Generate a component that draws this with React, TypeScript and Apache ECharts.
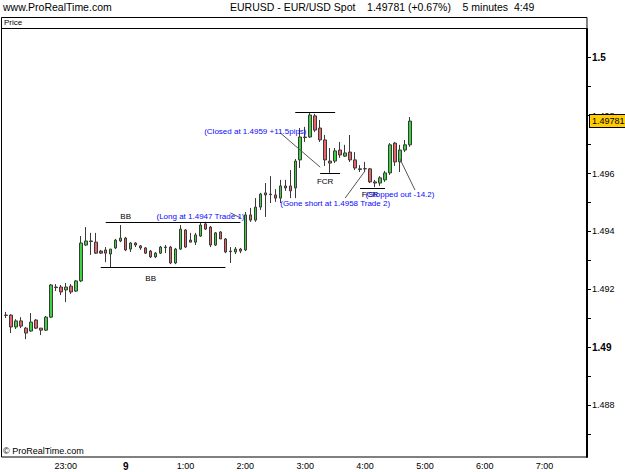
import React, { useEffect, useRef } from 'react';
import * as echarts from 'echarts';

const FONT = '"Liberation Sans", Arial, sans-serif';

// 5-minute bar times, 22:00 .. 7:40
const categories: string[] = [];
for (let m = 22 * 60; m <= 22 * 60 + 116 * 5; m += 5) {
  const h = Math.floor(m / 60) % 24;
  const mm = m % 60;
  categories.push(`${h}:${mm < 10 ? '0' : ''}${mm}`);
}

// [open, close, low, high] per 5-minute bar from 22:00
const ohlc: number[][] = [
  [1.49111, 1.4911, 1.49101, 1.49122],
  [1.49111, 1.4907, 1.49049, 1.49114],
  [1.4907, 1.49091, 1.49063, 1.49097],
  [1.49091, 1.49073, 1.49066, 1.49104],
  [1.49066, 1.49049, 1.49028, 1.4907],
  [1.49056, 1.49087, 1.49053, 1.49118],
  [1.49094, 1.49066, 1.49063, 1.49097],
  [1.49066, 1.49059, 1.49042, 1.49066],
  [1.49059, 1.49104, 1.49056, 1.49108],
  [1.49104, 1.49215, 1.49101, 1.49218],
  [1.49208, 1.49206, 1.49194, 1.49218],
  [1.49208, 1.49191, 1.4918, 1.49215],
  [1.49198, 1.49208, 1.49156, 1.49222],
  [1.49211, 1.49191, 1.49184, 1.49218],
  [1.49194, 1.49229, 1.49191, 1.49232],
  [1.49229, 1.4936, 1.49225, 1.49384],
  [1.49353, 1.49367, 1.4935, 1.49415],
  [1.49367, 1.49365, 1.49319, 1.49395],
  [1.49363, 1.49325, 1.49322, 1.49395],
  [1.49332, 1.49325, 1.49322, 1.49336],
  [1.49336, 1.49325, 1.49294, 1.49346],
  [1.49322, 1.49339, 1.49277, 1.49339],
  [1.49343, 1.4937, 1.49339, 1.49374],
  [1.49367, 1.49377, 1.49363, 1.49422],
  [1.49377, 1.49336, 1.49332, 1.49381],
  [1.49339, 1.4936, 1.49329, 1.49363],
  [1.4936, 1.49353, 1.49346, 1.49363],
  [1.4935, 1.49343, 1.49336, 1.49353],
  [1.49343, 1.49325, 1.49322, 1.49346],
  [1.49332, 1.49312, 1.49308, 1.49336],
  [1.49312, 1.49325, 1.49308, 1.49329],
  [1.49325, 1.49346, 1.49322, 1.4935],
  [1.49346, 1.49344, 1.49325, 1.49353],
  [1.49346, 1.49291, 1.49287, 1.4935],
  [1.49291, 1.49339, 1.49287, 1.49343],
  [1.49339, 1.49408, 1.49336, 1.49422],
  [1.49405, 1.49346, 1.49343, 1.49408],
  [1.4937, 1.49363, 1.49363, 1.49395],
  [1.49363, 1.49388, 1.49353, 1.49395],
  [1.49384, 1.49422, 1.49381, 1.49429],
  [1.49426, 1.49408, 1.49405, 1.49433],
  [1.49415, 1.49353, 1.49346, 1.49419],
  [1.49353, 1.49395, 1.4935, 1.49398],
  [1.49398, 1.49374, 1.49374, 1.49401],
  [1.49374, 1.49329, 1.49325, 1.49377],
  [1.49332, 1.4933, 1.49291, 1.49346],
  [1.49329, 1.49339, 1.49322, 1.49346],
  [1.49339, 1.49332, 1.49325, 1.49343],
  [1.49336, 1.49457, 1.49332, 1.49467],
  [1.49457, 1.49439, 1.49433, 1.49481],
  [1.49439, 1.49484, 1.49433, 1.49515],
  [1.49484, 1.49529, 1.49474, 1.49533],
  [1.49533, 1.49526, 1.4945, 1.49567],
  [1.49529, 1.49527, 1.49498, 1.49591],
  [1.49526, 1.49515, 1.49502, 1.49546],
  [1.49515, 1.49557, 1.49498, 1.49578],
  [1.49557, 1.4955, 1.4954, 1.49578],
  [1.49557, 1.4954, 1.49515, 1.49612],
  [1.4955, 1.49643, 1.49515, 1.4965],
  [1.49647, 1.49726, 1.49619, 1.49757],
  [1.49726, 1.49724, 1.49709, 1.49761],
  [1.49726, 1.49802, 1.49723, 1.49812],
  [1.49799, 1.4975, 1.49743, 1.49806],
  [1.49757, 1.49716, 1.49709, 1.49785],
  [1.49716, 1.49647, 1.49626, 1.49733],
  [1.49643, 1.49636, 1.49602, 1.49688],
  [1.49643, 1.49678, 1.49636, 1.49688],
  [1.49681, 1.49664, 1.49654, 1.49709],
  [1.4966, 1.49671, 1.49657, 1.49699],
  [1.49674, 1.49647, 1.4964, 1.49733],
  [1.49647, 1.49619, 1.49612, 1.49674],
  [1.49616, 1.49614, 1.49605, 1.49629],
  [1.49616, 1.49617, 1.49605, 1.4964],
  [1.49616, 1.49571, 1.49567, 1.49619],
  [1.49571, 1.49567, 1.49553, 1.49578],
  [1.49567, 1.49585, 1.49557, 1.49591],
  [1.49578, 1.49602, 1.49571, 1.49609],
  [1.49602, 1.49699, 1.49595, 1.49705],
  [1.49705, 1.4964, 1.49626, 1.49709],
  [1.4964, 1.49681, 1.49605, 1.49699],
  [1.49681, 1.49699, 1.49674, 1.49716],
  [1.49699, 1.49781, 1.49692, 1.49795],
];

const lastPrice = 1.49781;
const yLabelValues = [1.488, 1.49, 1.492, 1.494, 1.496, 1.498, 1.5];
const yTickValues = [1.487, 1.488, 1.489, 1.49, 1.491, 1.492, 1.493, 1.494, 1.495, 1.496, 1.497, 1.498, 1.499, 1.5];
const yMin = 1.48621;
const yMax = 1.50099;

// horizontal drawn lines (black)
const levelLines = [
  { from: '23:40', to: '1:55', price: 1.49433 },
  { from: '23:35', to: '1:40', price: 1.49277 },
  { from: '2:50', to: '3:30', price: 1.49812 },
  { from: '3:15', to: '3:35', price: 1.49602 },
  { from: '3:55', to: '4:20', price: 1.4955 },
];

// slanted pointer lines (grey)
const pointerLines = [
  { from: ['2:35', 1.4974], to: ['3:15', 1.49622] },
  { from: ['3:40', 1.49515], to: ['4:00', 1.49609] },
  { from: ['4:35', 1.4965], to: ['4:50', 1.49543] },
  { from: ['1:45', 1.49464], to: ['1:55', 1.49447] },
];

// annotation texts
const notes = [
  { at: '0:00', price: 1.4945, text: 'BB', blue: false },
  { at: '0:25', price: 1.49236, text: 'BB', blue: false },
  { at: '1:15', price: 1.49453, text: '(Long at 1.4947 Trade 1)', blue: true },
  { at: '2:10', price: 1.49746, text: '(Closed at 1.4959 +11.5pips)', blue: true },
  { at: '3:20', price: 1.49574, text: 'FCR', blue: false },
  { at: '3:30', price: 1.49495, text: '(Gone short at 1.4958 Trade 2)', blue: true },
  { at: '4:05', price: 1.49529, text: 'FCR', blue: false },
  { at: '4:35', price: 1.49529, text: '(Stopped out -14.2)', blue: true },
];

const headerTitle = 'EURUSD - EUR/USD Spot    1.49781 (+0.67%)    5 minutes  4:49';

export default function App() {
  const ref = useRef<HTMLDivElement>(null);
  useEffect(() => {
    if (!ref.current) return;
    const chart = echarts.init(ref.current, null, { renderer: 'svg' });
    const markLineData: any[] = [];
    levelLines.forEach((l) => {
      markLineData.push([
        { coord: [l.from, l.price], lineStyle: { color: '#000', width: 1, type: 'solid' } },
        { coord: [l.to, l.price] },
      ]);
    });
    pointerLines.forEach((l) => {
      markLineData.push([
        { coord: l.from, lineStyle: { color: '#555', width: 1, type: 'solid' } },
        { coord: l.to },
      ]);
    });
    const option: any = {
      animation: false,
      backgroundColor: '#fff',
      grid: { left: 3.5, right: 38, top: 29, bottom: 15, containLabel: false },
      xAxis: {
        type: 'category',
        data: categories,
        boundaryGap: true,
        axisLine: { show: false },
        axisTick: { show: false },
        splitLine: { show: false },
        axisLabel: {
          interval: (idx: number) => idx % 12 === 0 && idx > 0,
          formatter: (v: string) => (v === '0:00' ? '{b|9}' : v),
          fontSize: 9,
          fontFamily: FONT,
          color: '#000',
          margin: 4,
          rich: { b: { fontSize: 10, fontWeight: 'bold', fontFamily: FONT, color: '#000' } },
        },
      },
      yAxis: {
        type: 'value',
        position: 'right',
        min: yMin,
        max: yMax,
        axisLine: { show: true, lineStyle: { color: '#000', width: 2 } },
        axisTick: { show: true, customValues: yTickValues, length: 4, lineStyle: { color: '#000' } },
        splitLine: { show: false },
        axisLabel: {
          customValues: yLabelValues,
          margin: 5,
          fontSize: 9,
          fontFamily: FONT,
          color: '#000',
          formatter: (v: number) => {
            const r = Math.round(v * 1000) / 1000;
            if (r === 1.5 || r === 1.49) return `{b|${r}}`;
            return String(r);
          },
          rich: { b: { fontSize: 10, fontWeight: 'bold', fontFamily: FONT, color: '#000' } },
        },
      },
      series: [
        {
          type: 'candlestick',
          data: ohlc,
          barWidth: 3,
          itemStyle: {
            color: '#3cd43c',
            color0: '#e86464',
            borderColor: '#3a3a3a',
            borderColor0: '#3a3a3a',
            borderWidth: 1,
          },
          markLine: {
            silent: true,
            precision: 5,
            symbol: ['none', 'none'],
            label: { show: false },
            animation: false,
            data: markLineData,
          },
          markPoint: {
            silent: true,
            animation: false,
            data: notes.map((n) => ({
              coord: [n.at, n.price],
              symbol: 'circle',
              symbolSize: 1,
              itemStyle: { color: 'rgba(0,0,0,0)' },
              label: {
                show: true,
                position: 'inside',
                formatter: n.text,
                fontSize: 8,
                fontFamily: FONT,
                color: n.blue ? '#0a0aff' : '#000',
              },
            })),
          },
        },
        {
          type: 'line',
          data: [],
          silent: true,
          z: 5,
          markLine: {
            silent: true,
            precision: 5,
            symbol: ['none', 'none'],
            animation: false,
            data: [
              {
                yAxis: lastPrice,
                lineStyle: { color: 'rgba(0,0,0,0)', width: 1, opacity: 1 },
                label: {
                  show: true,
                  position: 'end',
                  formatter: String(lastPrice),
                  color: '#000',
                  fontSize: 9,
                  fontFamily: FONT,
                  backgroundColor: '#ffcc00',
                  borderColor: '#000',
                  borderWidth: 1,
                  padding: [2, 2, 1, 2],
                  distance: 3,
                  opacity: 1,
                },
              },
            ],
          },
        },
      ],
      graphic: [
        {
          type: 'rect',
          silent: true,
          shape: { x: 1.5, y: 17.5, width: 585.5, height: 439.5 },
          style: { fill: 'none', stroke: '#000', lineWidth: 1 },
        },
        {
          type: 'line',
          silent: true,
          shape: { x1: 1, y1: 28.5, x2: 587, y2: 28.5 },
          style: { stroke: '#000', lineWidth: 1 },
        },
        { type: 'text', left: 4, top: 18, style: { text: 'Price', fontSize: 8, fontFamily: FONT, fill: '#000' } },
        { type: 'text', left: 3, top: 1, style: { text: 'www.ProRealTime.com', fontSize: 10.5, fontFamily: FONT, fill: '#000' } },
        { type: 'text', left: 230, top: 1, style: { text: headerTitle, fontSize: 10.5, fontFamily: FONT, fill: '#000' } },
        { type: 'text', left: 3, top: 446, style: { text: '\u00a9 ProRealTime.com', fontSize: 9, fontFamily: FONT, fill: '#000' } },
      ],
    };
    chart.setOption(option);
    return () => chart.dispose();
  }, []);
  return <div ref={ref} style={{ position: 'absolute', left: 0, top: 0, width: 625, height: 472 }} />;
}
